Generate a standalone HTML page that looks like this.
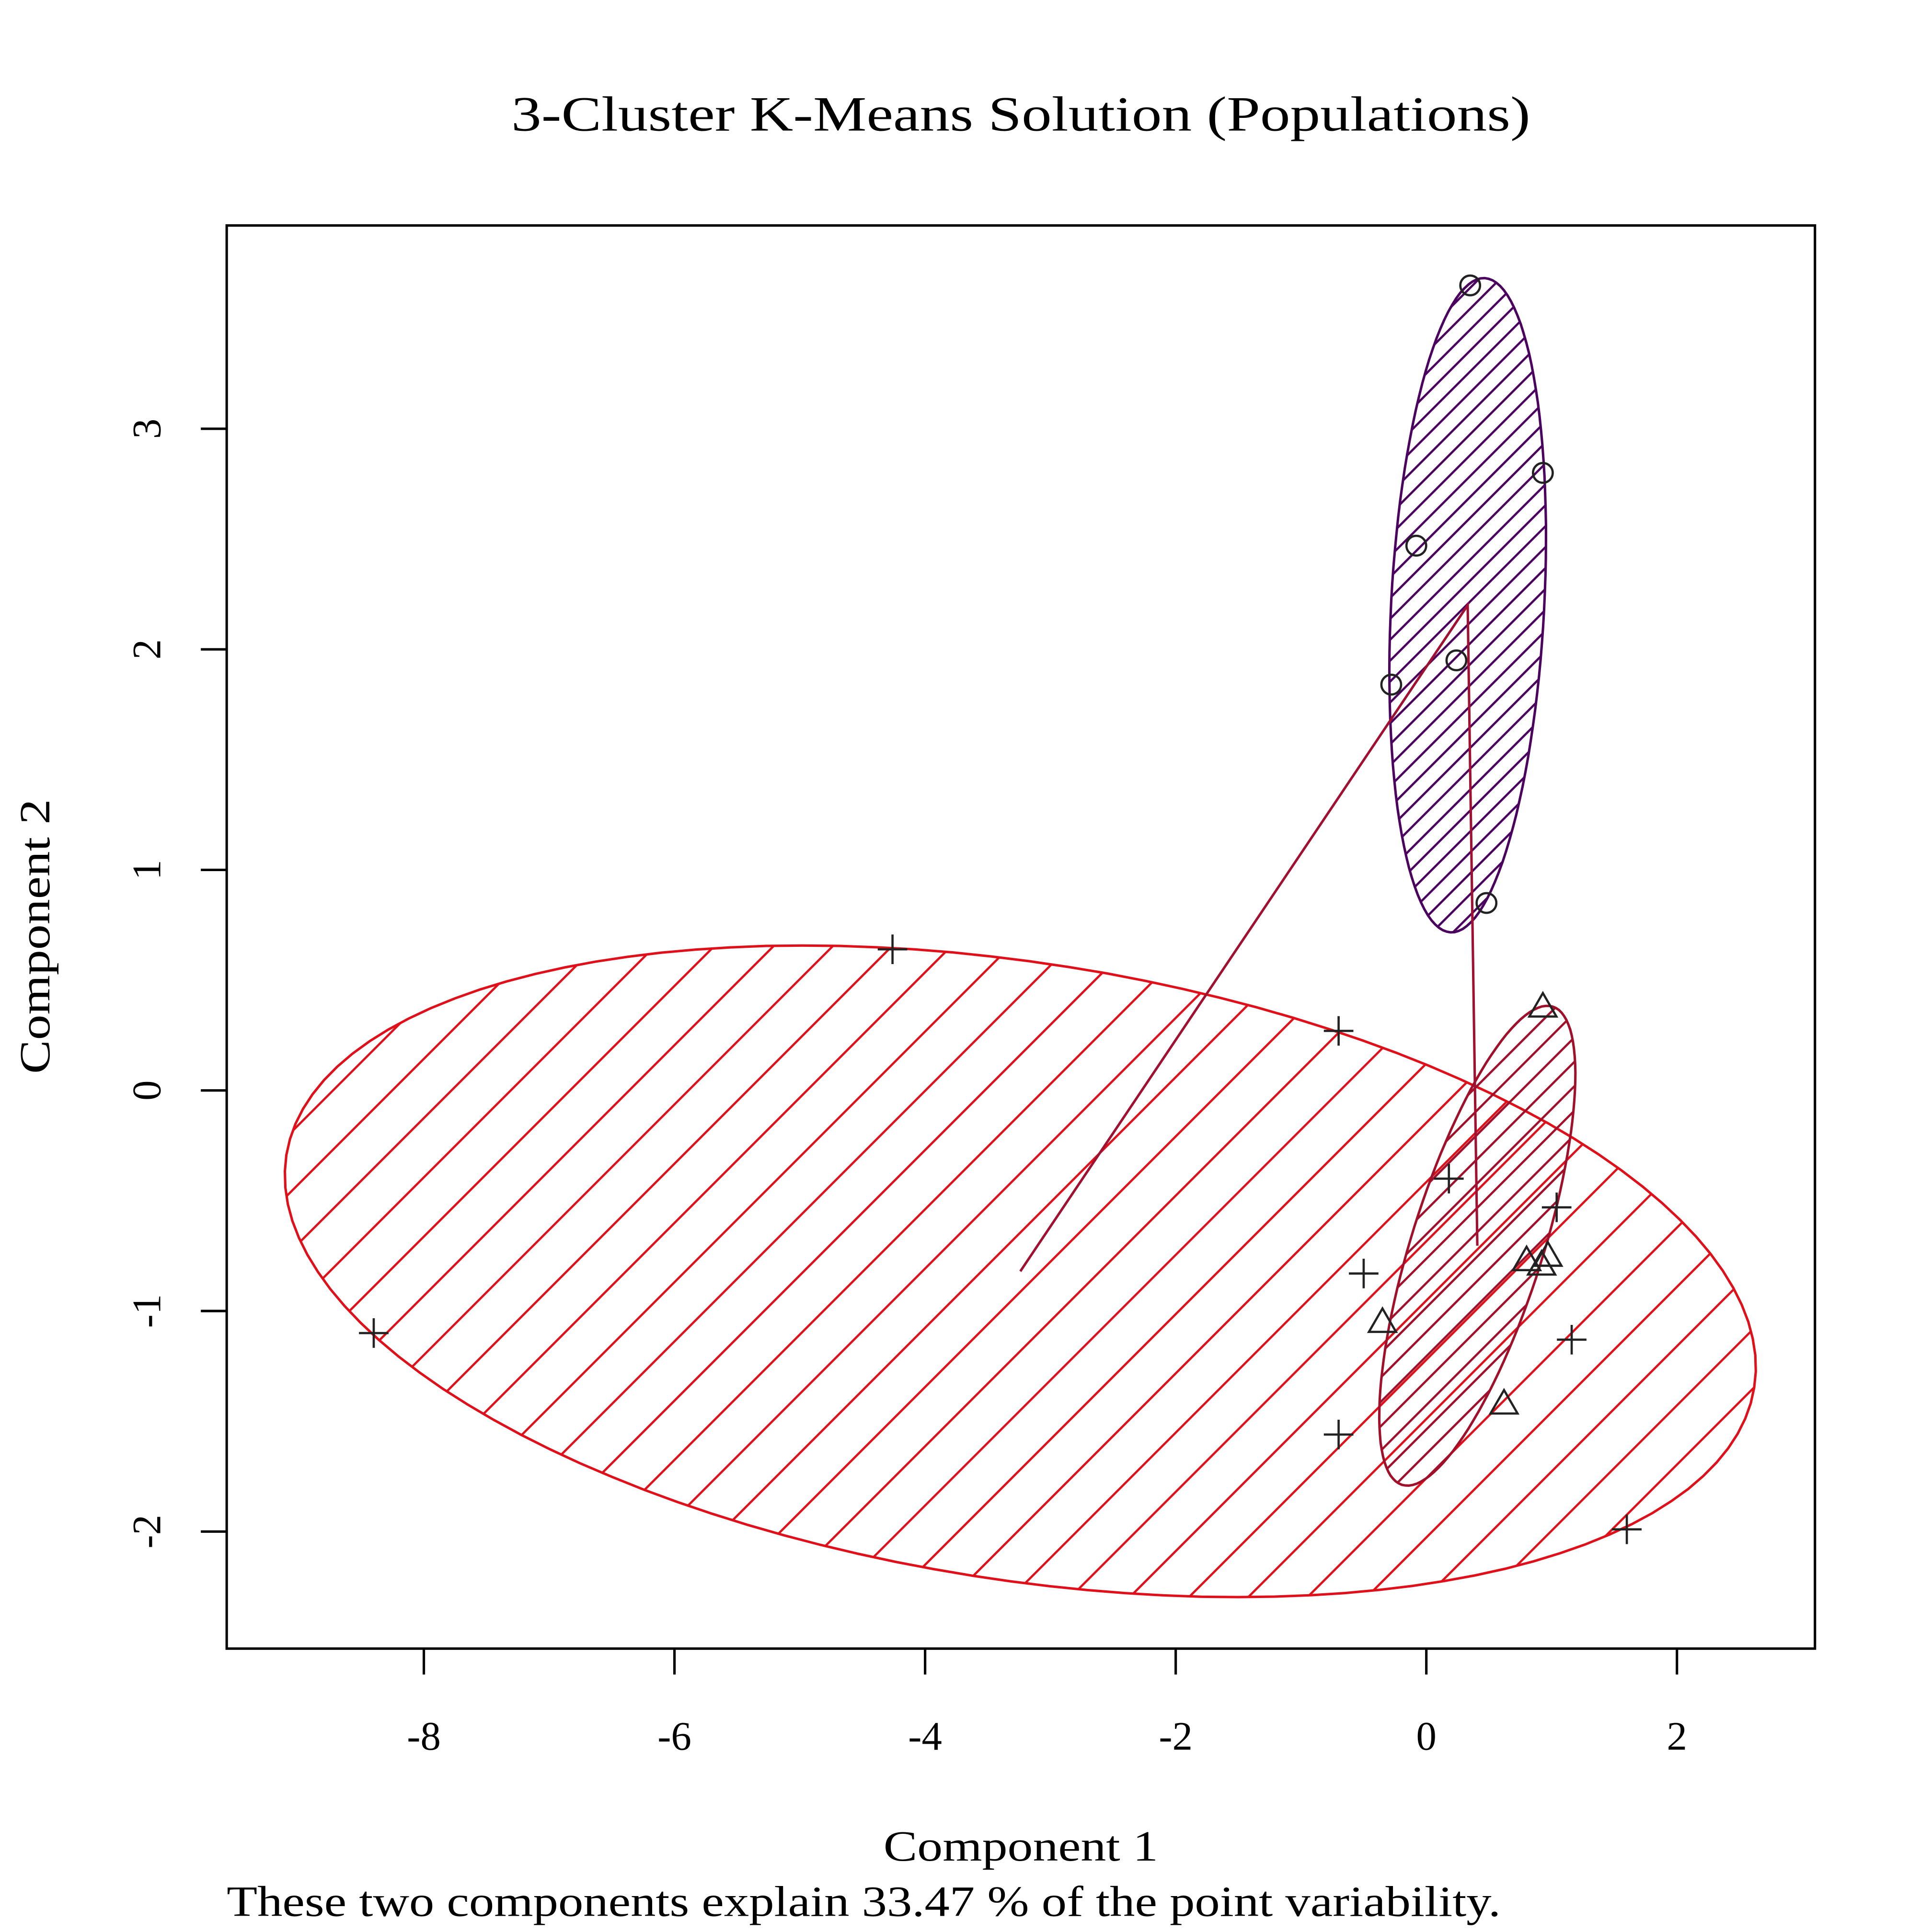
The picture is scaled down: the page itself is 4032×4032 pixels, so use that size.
<!DOCTYPE html>
<html><head><meta charset="utf-8"><style>html,body{margin:0;padding:0;background:#fff}svg{display:block}</style></head>
<body>
<svg id="chart" width="4032" height="4032" viewBox="0 0 1568 1568" xmlns="http://www.w3.org/2000/svg" font-family="'Liberation Serif', serif">
<defs>
<pattern id="hatchBig" patternUnits="userSpaceOnUse" width="34" height="34" patternTransform="rotate(45)"><rect x="0" y="0" width="1.8" height="34" fill="#e0101a"/></pattern>
<pattern id="hatchSmall" patternUnits="userSpaceOnUse" width="14" height="14" patternTransform="rotate(45)"><rect x="0" y="0" width="1.8" height="14" fill="#a0102a"/></pattern>
<pattern id="hatchPurple" patternUnits="userSpaceOnUse" width="12" height="12" patternTransform="rotate(45)"><rect x="0" y="0" width="1.8" height="12" fill="#4b0060"/></pattern>
</defs>
<rect width="1568" height="1568" fill="#fff"/>
<text x="415" y="106" font-size="40" textLength="827" lengthAdjust="spacingAndGlyphs">3-Cluster K-Means Solution (Populations)</text>
<g id="plot"></g>
<rect x="184" y="183" width="1289" height="1155" fill="none" stroke="#000" stroke-width="2"/>
<text x="717" y="1510" font-size="35" textLength="223" lengthAdjust="spacingAndGlyphs">Component 1</text>
<text transform="translate(40,760) rotate(-90)" font-size="35" text-anchor="middle" textLength="223" lengthAdjust="spacingAndGlyphs">Component 2</text>
<text x="184" y="1555" font-size="35" textLength="1034" lengthAdjust="spacingAndGlyphs">These two components explain 33.47 % of the point variability.</text>
</svg>
<script>
const xTicks = [-8, -6, -4, -2, 0, 2];
const yTicks = [-2, -1, 0, 1, 2, 3];
const circleX = [0.35, 0.93, -0.08, 0.24, -0.28, 0.48];
const circleY = [3.65, 2.80, 2.47, 1.95, 1.84, 0.85];
const triX = [0.93, -0.35, 0.80, 0.92, 0.97, 0.62];
const triY = [0.38, -1.05, -0.77, -0.79, -0.75, -1.42];
const plusX = [-4.26, -0.70, -8.40, 0.18, 1.04, -0.50, 1.16, -0.70, 1.60];
const plusY = [0.64, 0.27, -1.10, -0.40, -0.53, -0.83, -1.13, -1.56, -1.99];
const centerX = [-3.24, 0.33, 0.407];
const centerY = [-0.82, 2.20, -0.704];
const ellMajX = [5.857, 0.136, 0.602];
const ellMajY = [-0.527, 1.483, 1.084];
const ellMinX = [-0.385, 0.610, 0.500];
const ellMinY = [-1.380, -0.018, -0.090];
const ellStroke = ['#e0101a', '#4b0060', '#a0102a'];
const ellFill = ['url(#hatchBig)', 'url(#hatchPurple)', 'url(#hatchSmall)'];
const ellNames = ['cluster-ellipse-large', 'cluster-ellipse-purple', 'cluster-ellipse-small'];

const sx = v => 1157.6 + v * 101.7;
const sy = v => 885 - v * 179;
const NS = 'http://www.w3.org/2000/svg';
const svg = document.getElementById('chart');
const plot = document.getElementById('plot');
function mk(tag, attrs, parent) {
  const e = document.createElementNS(NS, tag);
  for (const k in attrs) e.setAttribute(k, attrs[k]);
  (parent || plot).appendChild(e);
  return e;
}
for (let i = 0; i < 3; i++) {
  let d = '';
  for (let k = 0; k <= 120; k++) {
    const t = k / 120 * 2 * Math.PI;
    const x = centerX[i] + ellMajX[i] * Math.cos(t) + ellMinX[i] * Math.sin(t);
    const y = centerY[i] + ellMajY[i] * Math.cos(t) + ellMinY[i] * Math.sin(t);
    d += (k ? 'L' : 'M') + sx(x).toFixed(1) + ' ' + sy(y).toFixed(1);
  }
  const p = mk('path', {d: d + 'Z', fill: ellFill[i], stroke: ellStroke[i], 'stroke-width': 2});
  
  
}
{
  let d = '';
  [0, 1, 2].forEach((i, k) => { d += (k ? 'L' : 'M') + sx(centerX[i]) + ' ' + sy(centerY[i]); });
  const l = mk('path', {d: d, fill: 'none', stroke: '#a01030', 'stroke-width': 2});
  
  
}
const mc = '#222';
circleX.forEach((v, i) => {
  const c = mk('circle', {cx: sx(v), cy: sy(circleY[i]), r: 8, fill: 'none', stroke: mc, 'stroke-width': 1.8});
  
  
});
triX.forEach((v, i) => {
  const x = sx(v), y = sy(triY[i]);
  const t = mk('polygon', {points: `${x},${y-11} ${x-11},${y+8} ${x+11},${y+8}`, fill: 'none', stroke: mc, 'stroke-width': 1.8});
  
  
});
plusX.forEach((v, i) => {
  const x = sx(v), y = sy(plusY[i]);
  const p = mk('path', {d: `M${x-12} ${y}H${x+12}M${x} ${y-12}V${y+12}`, stroke: mc, 'stroke-width': 1.8});
  
  
});
xTicks.forEach(v => {
  const l = mk('line', {x1: sx(v), x2: sx(v), y1: 1338, y2: 1359, stroke: '#000', 'stroke-width': 2}, svg);
  
  
  const t = mk('text', {x: sx(v), y: 1420, 'font-size': 33, 'text-anchor': 'middle'}, svg);
  t.textContent = v;
  
  
});
yTicks.forEach(v => {
  const l = mk('line', {x1: 163, x2: 184, y1: sy(v), y2: sy(v), stroke: '#000', 'stroke-width': 2}, svg);
  
  
  const t = mk('text', {transform: `translate(130,${sy(v)}) rotate(-90)`, 'font-size': 33, 'text-anchor': 'middle'}, svg);
  t.textContent = v;
  
  
});
</script>
</body></html>
